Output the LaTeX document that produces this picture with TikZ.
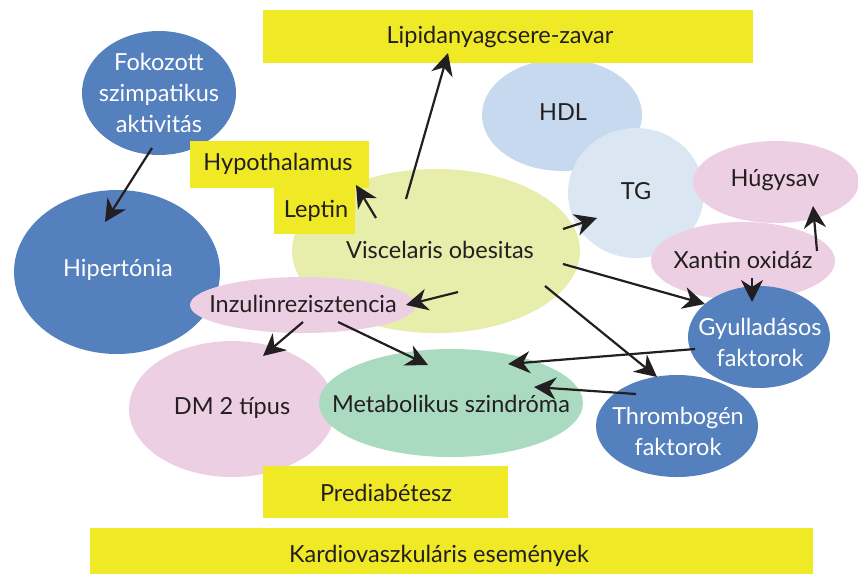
\documentclass[tikz,border=0pt]{standalone}
\usepackage{fontspec}
\setmainfont{Lato}
\usetikzlibrary{shapes.geometric,arrows.meta}
\definecolor{ybox}{HTML}{F0E926}
\definecolor{eblue}{HTML}{5480BE}
\definecolor{ehdl}{HTML}{C7D9EE}
\definecolor{etg}{HTML}{DAE6F1}
\definecolor{epink}{HTML}{EDCFE3}
\definecolor{evisc}{HTML}{E7EDAA}
\definecolor{emet}{HTML}{AADBC1}
\definecolor{ink}{HTML}{231F20}
\tikzset{
  ell/.style={ellipse,inner sep=0pt,outer sep=0pt},
  lbl/.style={text=ink,inner sep=0pt,anchor=center,align=center},
  wlbl/.style={lbl,text=white},
  arr/.style={draw=ink,line width=2.2pt,-{Stealth[length=22pt,width=22pt,inset=7pt]}},
}
\begin{document}
\begin{tikzpicture}[x=1pt,y=-1pt,font=\fontsize{23.5}{31}\selectfont]
\useasboundingbox (0,0) rectangle (858,574);
% ellipses
\node[ell,fill=eblue,minimum width=206pt,minimum height=164pt] (hip) at (117,272) {};
\node[wlbl] (hipt) at (118,270) {Hipertónia};
\node[ell,fill=eblue,minimum width=154pt,minimum height=124pt] (fok) at (159,93) {};
\node[wlbl] (fokt) at (159,93) {Fokozott\\szimpatikus\\aktivitás};
\node[ell,fill=evisc,minimum width=288pt,minimum height=164pt] (visc) at (436,251) {};
\node[lbl] (visct) at (440,250) {Viscelaris obesitas};
\node[ell,fill=epink,minimum width=226pt,minimum height=56pt] (inz) at (303,305) {};
\node[lbl] (inzt) at (303,304) {Inzulinrezisztencia};
\node[ell,fill=ehdl,minimum width=160pt,minimum height=112pt] (hdl) at (562,115) {};
\node[lbl] (hdlt) at (563,112) {HDL};
\node[ell,fill=etg,minimum width=136pt,minimum height=130pt] (tg) at (636,193) {};
\node[lbl] (tgt) at (636,191) {TG};
\node[ell,fill=epink,minimum width=166pt,minimum height=82pt] (hug) at (776,182) {};
\node[lbl] (hugt) at (775,180) {Húgysav};
\node[ell,fill=epink,minimum width=184pt,minimum height=78pt] (xan) at (743,261) {};
\node[lbl] (xant) at (743,260) {Xantin oxidáz};
\node[ell,fill=eblue,minimum width=142pt,minimum height=102pt] (gyu) at (759,337) {};
\node[wlbl] (gyut) at (760,342) {Gyulladásos\\faktorok};
\node[ell,fill=eblue,minimum width=162pt,minimum height=102pt] (thr) at (677,426) {};
\node[wlbl] (thrt) at (678,431) {Thrombogén\\faktorok};
\node[ell,fill=epink,minimum width=206pt,minimum height=136pt] (dm) at (232,409) {};
\node[lbl] (dmt) at (232,408) {DM 2 típus};
\node[ell,fill=emet,minimum width=264pt,minimum height=108pt] (met) at (451,403) {};
\node[lbl] (mett) at (451,404) {Metabolikus szindróma};
% boxes
\fill[fill=ybox] (263,10) rectangle (753,63);
\node[lbl] (lip) at (500,37) {Lipidanyagcsere-zavar};
\fill[fill=ybox] (190,141) rectangle (369,188);
\fill[fill=ybox] (274,188) rectangle (355,234);
\node[lbl] (hyp) at (278,164) {Hypothalamus};
\node[lbl] (lep) at (316,211) {Leptin};
\fill[fill=ybox] (263,466) rectangle (508,518);
\node[lbl] (pre) at (386,493) {Prediabétesz};
\fill[fill=ybox] (90,528) rectangle (813,574);
\node[lbl] (kar) at (439,556) {Kardiovaszkuláris események};
% arrow end points
\coordinate (a1s) at (152,148); \coordinate (a1e) at (105,222);
\coordinate (a2s) at (406,199); \coordinate (a2e) at (448,53);
\coordinate (a3s) at (376,218); \coordinate (a3e) at (356,185);
\coordinate (a4s) at (563,229); \coordinate (a4e) at (597,218);
\coordinate (a5s) at (563,264); \coordinate (a5e) at (705,304);
\coordinate (a6s) at (545,286); \coordinate (a6e) at (657,377);
\coordinate (a7s) at (458,292); \coordinate (a7e) at (406,305);
\coordinate (a8s) at (817,251); \coordinate (a8e) at (813,206);
\coordinate (a9s) at (752,278); \coordinate (a9e) at (752,302);
\coordinate (a10s) at (695,349); \coordinate (a10e) at (508,364);
\coordinate (a11s) at (636,394); \coordinate (a11e) at (534,387);
\coordinate (a12s) at (303,322); \coordinate (a12e) at (263,356);
\coordinate (a13s) at (338,322); \coordinate (a13e) at (428,365);
\draw[arr] (a1s) -- (a1e);
\draw[arr] (a2s) -- (a2e);
\draw[arr] (a3s) -- (a3e);
\draw[arr] (a4s) -- (a4e);
\draw[arr] (a5s) -- (a5e);
\draw[arr] (a6s) -- (a6e);
\draw[arr] (a7s) -- (a7e);
\draw[arr] (a8s) -- (a8e);
\draw[arr] (a9s) -- (a9e);
\draw[arr] (a10s) -- (a10e);
\draw[arr] (a11s) -- (a11e);
\draw[arr] (a12s) -- (a12e);
\draw[arr] (a13s) -- (a13e);
\end{tikzpicture}
\end{document}
